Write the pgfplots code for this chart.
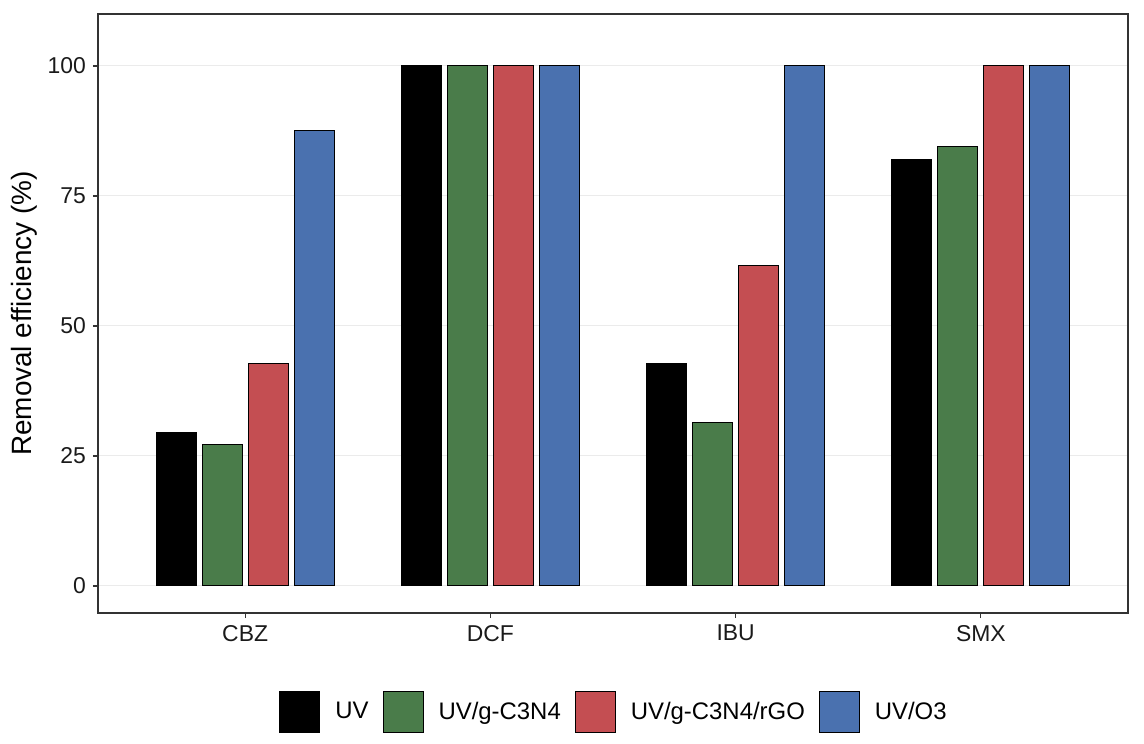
\documentclass[border=0pt]{standalone}
\usepackage{fontspec}
\setmainfont{Liberation Sans}
\usepackage{pgfplots}
\pgfplotsset{compat=1.18}
\definecolor{cgreen}{HTML}{4A7C4A}
\definecolor{cred}{HTML}{C44E52}
\definecolor{cblue}{HTML}{4A71AF}
\definecolor{framec}{HTML}{333333}
\definecolor{gridc}{HTML}{EBEBEB}
\definecolor{tickc}{HTML}{1A1A1A}
\begin{document}
\begin{tikzpicture}
\path[use as bounding box] (-49bp,-65.5bp) rectangle (523bp,306.5bp);
\begin{axis}[
  scale only axis, width=515bp, height=299.5bp,
  anchor=south west, at={(0,0)},
  xmin=0.4, xmax=4.6, ymin=-5.2, ymax=110,
  xtick={1,2,3,4}, xticklabels={CBZ,DCF,IBU,SMX},
  ytick={0,25,50,75,100},
  ymajorgrids, grid style={color=gridc, line width=0.5bp},
  axis line style={color=framec, line width=0.8bp},
  tick style={color=framec, line width=0.6bp},
  tick align=outside, major tick length=2.5bp,
  xtick pos=bottom, ytick pos=left,
  ticklabel style={font=\fontsize{11.5}{13}\selectfont, text=tickc},
  /pgf/number format/assume math mode=true,
  ylabel={Removal efficiency (\%)},
  ylabel style={font=\fontsize{14}{16}\selectfont, at={(axis description cs:-0.0718,0.5)}, anchor=center},
  ybar, bar width=0.163,
  legend columns=4,
  legend style={draw=none, fill=none, at={(0.5,-0.1653)}, anchor=center,
    font=\fontsize{12}{14}\selectfont,
    nodes={inner xsep=0pt},
    /tikz/every odd column/.append style={column sep=7.5bp},
    /tikz/every even column/.append style={column sep=7bp}},
  legend image code/.code={\draw[#1,line width=0.5bp] (0bp,-10.25bp) rectangle (20bp,10.25bp);},
]
\addplot[fill=black, draw=black, line width=0.5bp, bar shift=-0.281] coordinates {(1,29.5) (2,100) (3,42.7) (4,82.0)};
\addplot[fill=cgreen, draw=black, line width=0.5bp, bar shift=-0.094] coordinates {(1,27.2) (2,100) (3,31.4) (4,84.5)};
\addplot[fill=cred, draw=black, line width=0.5bp, bar shift=0.094] coordinates {(1,42.7) (2,100) (3,61.6) (4,100)};
\addplot[fill=cblue, draw=black, line width=0.5bp, bar shift=0.281] coordinates {(1,87.6) (2,100) (3,100) (4,100)};
\legend{UV, UV/g-C3N4, UV/g-C3N4/rGO, UV/O3}
\end{axis}
\end{tikzpicture}
\end{document}
